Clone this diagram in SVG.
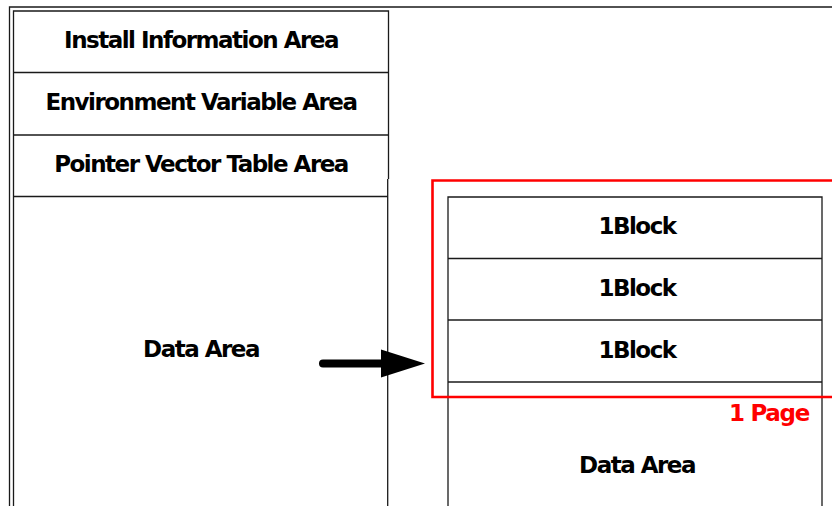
<svg xmlns="http://www.w3.org/2000/svg" width="832" height="506" viewBox="0 0 832 506">
  <style>
    .frame { fill: none; stroke: #1a1a1a; stroke-width: 1.3; }
    .sep { stroke: #1a1a1a; stroke-width: 1.3; }
    .lbl { font-family: "DejaVu Sans", "Liberation Sans", sans-serif; font-weight: bold; font-size: 23px; letter-spacing: -1.5px; fill: #000000; text-anchor: middle; }
    .page { fill: none; stroke: #ff0000; stroke-width: 2.6; }
    .pagelbl { font-family: "DejaVu Sans", "Liberation Sans", sans-serif; font-weight: bold; font-size: 23px; letter-spacing: -1.3px; fill: #ff0000; text-anchor: start; }
    .arrow-shaft { stroke: #000000; stroke-width: 8; stroke-linecap: round; }
    .arrow-head { fill: #000000; }
  </style>
  <rect width="832" height="506" fill="#ffffff"/>

  <!-- outer page frame -->
  <path class="frame" d="M9.5,506 L9.5,7 L832,7"/>

  <!-- memory map on the left -->
  <g id="memory-map">
    <path class="frame" d="M13.5,506 L13.5,11 L388.5,11 L388.5,179"/>
    <path class="frame" d="M387.7,179 L387.7,506"/>
  </g>
  <g id="install-info">
    <line class="sep" x1="13.5" y1="72.5" x2="388.5" y2="72.5"/>
    <text class="lbl" x="201" y="48">Install Information Area</text>
  </g>
  <g id="env-var">
    <line class="sep" x1="13.5" y1="135" x2="388.5" y2="135"/>
    <text class="lbl" x="201" y="110">Environment Variable Area</text>
  </g>
  <g id="pointer-vector">
    <line class="sep" x1="13.5" y1="196.5" x2="388" y2="196.5"/>
    <text class="lbl" x="201" y="172">Pointer Vector Table Area</text>
  </g>
  <g id="data-area-left">
    <text class="lbl" x="201" y="357">Data Area</text>
  </g>

  <!-- block layout of the data area -->
  <g id="blocks">
    <path class="frame" d="M448,506 L448,197 L822,197 L822,506"/>
  </g>
  <g id="block-1">
    <text class="lbl" x="637" y="234">1Block</text>
    <line class="sep" x1="448" y1="258.5" x2="822" y2="258.5"/>
  </g>
  <g id="block-2">
    <text class="lbl" x="637" y="296">1Block</text>
    <line class="sep" x1="448" y1="320" x2="822" y2="320"/>
  </g>
  <g id="block-3">
    <text class="lbl" x="637" y="358">1Block</text>
    <line class="sep" x1="448" y1="382" x2="822" y2="382"/>
  </g>
  <g id="data-area-right">
    <text class="lbl" x="637" y="473">Data Area</text>
  </g>

  <!-- one page = three blocks -->
  <g id="page">
    <path class="page" d="M834,180.5 L432.5,180.5 L432.5,397 L834,397"/>
    <text class="pagelbl" x="729" y="420.5">1 Page</text>
  </g>

  <!-- connectors -->
  <g id="connectors">
    <line class="arrow-shaft" x1="323" y1="363.5" x2="384" y2="363.5"/>
    <polygon class="arrow-head" points="381,349.5 425,363.5 381,377.5"/>
  </g>
</svg>
